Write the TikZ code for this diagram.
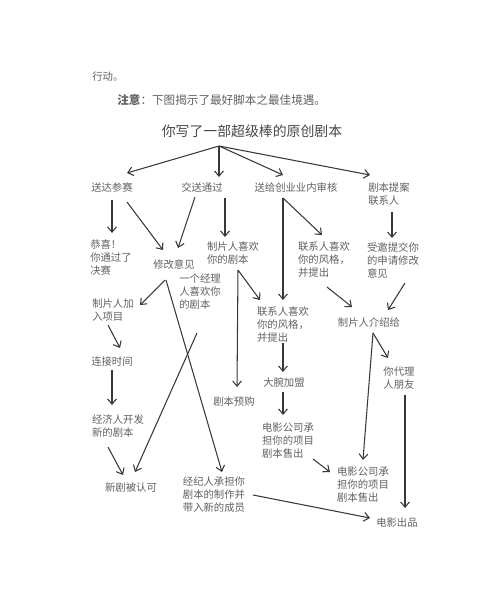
\documentclass[tikz,border=0pt]{standalone}
\usepackage{fontspec}
\setmainfont{Noto Sans CJK SC}
\usetikzlibrary{arrows.meta}

\begin{document}
\begin{tikzpicture} [x=0.02cm, y=-0.02cm,
            box/.style = {font=\fontsize{5.9}{7.4}\selectfont, text=black!62,
                          inner sep=0pt, align=left},
            arr/.style = {-{Straight Barb[length=3pt, width=5pt]},
                          color=black!78, line width=0.6pt}]

            \useasboundingbox (0,0) rectangle (493,600);

            % Page text
            \node (act) [box, anchor=west] at (92,77) {行动。};
            \node (note) [box, anchor=west,
                font=\fontsize{6.6}{8}\selectfont] at (117,100)
                {{\bfseries 注意}：下图揭示了最好脚本之最佳境遇。};
            \node (title) [box,
                font=\fontsize{7.9}{9}\selectfont, text=black!72] at (252,131)
                {你写了一部超级棒的原创剧本};
            \coordinate (hub) at (219,146);

            % First choices
            \node (n1) [box] at (112,188) {送达参赛};
            \node (n2) [box] at (202,188) {交送通过};
            \node (n3) [box] at (296,188) {送给创业业内审核};
            \node (n4) [box] at (389,194) {剧本提案\\联系人};

            % Second row
            \node (n5) [box] at (111,258) {恭喜！\\你通过了\\决赛};
            \node (n6) [box] at (174,265) {修改意见};
            \node (n7) [box] at (233,253) {制片人喜欢\\你的剧本};
            \node (n8) [box] at (200,292) {一个经理\\人喜欢你\\的剧本};
            \node (n9) [box] at (324,260) {联系人喜欢\\你的风格，\\并提出};
            \node (n10) [box] at (393,261) {受邀提交你\\的申请修改\\意见};

            % Left column
            \node (n11) [box] at (113,310) {制片人加\\入项目};
            \node (n12) [box] at (112,362) {连接时间};
            \node (n13) [box] at (118,426) {经济人开发\\新的剧本};
            \node (n14) [box] at (131,488) {新剧被认可};
            \node (n15) [box] at (214,495) {经纪人承担你\\剧本的制作并\\带入新的成员};

            % Middle column
            \node (n16) [box] at (234,402) {剧本预购};
            \node (n17) [box] at (283,325) {联系人喜欢\\你的风格，\\并提出};
            \node (n18) [box] at (284,383) {大腕加盟};
            \node (n19) [box] at (288,441) {电影公司承\\担你的项目\\剧本售出};

            % Right column
            \node (n20) [box] at (369,323) {制片人介绍给};
            \node (n21) [box] at (399,378) {你代理\\人朋友};
            \node (n22) [box] at (363,485) {电影公司承\\担你的项目\\剧本售出};
            \node (n23) [box] at (397,523) {电影出品};

            % Arrows
            \path [arr]
                (hub) edge ([shift={(15,-15)}]n1.center)
                (hub) edge ([shift={(17,-11)}]n2.center)
                (hub) edge ([shift={(-13,-13)}]n3.center)
                (hub) edge ([shift={(-19,-19)}]n4.center)

                ([shift={(0,12)}]n1.center)   edge ([shift={(1,-25)}]n5.center)
                ([shift={(15,14)}]n1.center)  edge ([shift={(-11,-15)}]n6.center)
                ([shift={(-7,9)}]n2.center)   edge ([shift={(4,-17)}]n6.center)
                ([shift={(23,10)}]n2.center)  edge ([shift={(-8,-16)}]n7.center)
                ([shift={(-13,10)}]n3.center) edge ([shift={(-2,-25)}]n9.center)
                ([shift={(-13,10)}]n3.center) edge ([shift={(0,-25)}]n17.center)
                ([shift={(3,18)}]n4.center)   edge ([shift={(-1,-23)}]n10.center)

                ([shift={(-9,15)}]n6.center)  edge ([shift={(27,-5)}]n11.center)
                ([shift={(-8,15)}]n6.center)  edge ([shift={(8,-23)}]n15.center)
                ([shift={(-3,41)}]n8.center)  edge ([shift={(4,-16)}]n14.center)
                ([shift={(5,17)}]n7.center)   edge ([shift={(3,-15)}]n16.center)
                ([shift={(5,17)}]n7.center)   edge ([shift={(-23,-25)}]n17.center)
                ([shift={(3,27)}]n9.center)   edge ([shift={(-17,-16)}]n20.center)
                ([shift={(12,22)}]n10.center) edge ([shift={(19,-13)}]n20.center)

                ([shift={(-5,15)}]n11.center) edge ([shift={(8,-14)}]n12.center)
                ([shift={(0,8)}]n12.center)   edge ([shift={(-6,-21)}]n13.center)
                ([shift={(-10,21)}]n13.center) edge ([shift={(-8,-13)}]n14.center)
                ([shift={(39,0)}]n15.center)  edge ([shift={(-27,-5)}]n23.center)

                ([shift={(0,18)}]n17.center)  edge ([shift={(-1,-11)}]n18.center)
                ([shift={(-1,9)}]n18.center)  edge ([shift={(-5,-26)}]n19.center)
                ([shift={(25,18)}]n19.center) edge ([shift={(-33,-13)}]n22.center)

                ([shift={(4,10)}]n20.center)  edge ([shift={(-11,-20)}]n21.center)
                ([shift={(4,10)}]n20.center)  edge ([shift={(0,-25)}]n22.center)
                ([shift={(6,17)}]n21.center)  edge ([shift={(8,-15)}]n23.center);
        \end{tikzpicture}
\end{document}
